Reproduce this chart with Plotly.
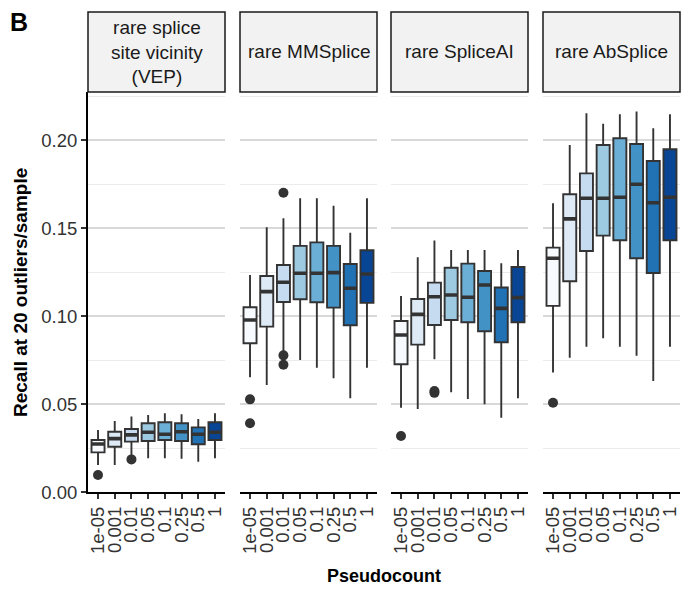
import plotly.graph_objects as go

W, H = 684, 590

panel_titles = ["rare splice<br>site vicinity<br>(VEP)", "rare MMSplice", "rare SpliceAI", "rare AbSplice"]
pseudocounts = ["1e-05", "0.001", "0.01", "0.05", "0.1", "0.25", "0.5", "1"]
box_colors = ["#f7fbff", "#deebf7", "#c6dbef", "#9ecae1", "#6baed6", "#4292c6", "#2171b5", "#084594"]

# VEP
vep_lo = [0.0155, 0.0155, 0.0212, 0.0193, 0.0193, 0.0190, 0.0174, 0.0193]
vep_q1 = [0.0227, 0.0259, 0.0288, 0.0291, 0.0297, 0.0291, 0.0273, 0.0297]
vep_med = [0.0274, 0.0305, 0.0326, 0.0341, 0.0330, 0.0344, 0.0330, 0.0341]
vep_q3 = [0.0297, 0.0344, 0.0360, 0.0392, 0.0398, 0.0392, 0.0369, 0.0398]
vep_hi = [0.0354, 0.0405, 0.0430, 0.0439, 0.0449, 0.0443, 0.0416, 0.0449]
vep_out = [[0.0098], [], [0.0187], [], [], [], [], []]

# MMSplice
mms_lo = [0.0653, 0.0610, 0.0790, 0.0752, 0.0708, 0.0648, 0.0534, 0.0708]
mms_q1 = [0.0847, 0.0941, 0.1081, 0.1097, 0.1080, 0.1049, 0.0949, 0.1076]
mms_med = [0.0979, 0.1140, 0.1193, 0.1244, 0.1244, 0.1248, 0.1159, 0.1240]
mms_q3 = [0.1051, 0.1229, 0.1291, 0.1400, 0.1420, 0.1400, 0.1297, 0.1375]
mms_hi = [0.1235, 0.1506, 0.1557, 0.1670, 0.1670, 0.1628, 0.1475, 0.1670]
mms_out = [[0.0528, 0.0392], [], [0.1702, 0.0778, 0.0725], [], [], [], [], []]

# SpliceAI
sai_lo = [0.0481, 0.0473, 0.0756, 0.0568, 0.0530, 0.0500, 0.0424, 0.0534]
sai_q1 = [0.0727, 0.0839, 0.0950, 0.0979, 0.0966, 0.0915, 0.0852, 0.0966]
sai_med = [0.0894, 0.1011, 0.1111, 0.1121, 0.1108, 0.1178, 0.1045, 0.1106]
sai_q3 = [0.0973, 0.1098, 0.1191, 0.1276, 0.1299, 0.1257, 0.1163, 0.1280]
sai_hi = [0.1115, 0.1335, 0.1430, 0.1377, 0.1377, 0.1377, 0.1301, 0.1377]
sai_out = [[0.0320], [], [0.0575, 0.0565], [], [], [], [], []]

# AbSplice
abs_lo = [0.0680, 0.0765, 0.0827, 0.0875, 0.0827, 0.0776, 0.0632, 0.0827]
abs_q1 = [0.1059, 0.1199, 0.1371, 0.1458, 0.1432, 0.1330, 0.1246, 0.1432]
abs_med = [0.1330, 0.1553, 0.1670, 0.1670, 0.1676, 0.1750, 0.1645, 0.1676]
abs_q3 = [0.1390, 0.1693, 0.1812, 0.1973, 0.2011, 0.1979, 0.1882, 0.1949]
abs_hi = [0.1642, 0.1973, 0.2153, 0.2093, 0.2148, 0.2163, 0.2068, 0.2148]
abs_out = [[0.0509], [], [], [], [], [], [], []]

panels = [
    (vep_lo, vep_q1, vep_med, vep_q3, vep_hi, vep_out),
    (mms_lo, mms_q1, mms_med, mms_q3, mms_hi, mms_out),
    (sai_lo, sai_q1, sai_med, sai_q3, sai_hi, sai_out),
    (abs_lo, abs_q1, abs_med, abs_q3, abs_hi, abs_out),
]

panel_px = [(88, 225), (240, 377), (391, 528), (543, 680)]
plot_top, plot_bot = 92, 492.3
strip_top = 12
FONT = "Liberation Sans, Arial, sans-serif"
DARK = "#333333"
BW = 0.78
TICK_SIZE = 18.5

def px(x):
    return x / W

def py(y):
    return 1 - y / H

fig = go.Figure()
layout = dict(
    width=W, height=H, margin=dict(l=0, r=0, t=0, b=0),
    paper_bgcolor="white", plot_bgcolor="white", boxmode="overlay",
    showlegend=False, font=dict(family=FONT, size=TICK_SIZE, color=DARK),
)

shapes = []
annotations = []
for p, (lo, q1, med, q3, hi, outs) in enumerate(panels):
    n = "" if p == 0 else str(p + 1)
    xa, ya = "x" + n, "y" + n
    for i in range(len(pseudocounts)):
        fig.add_trace(go.Box(
            x=[i], q1=[q1[i]], median=[med[i]], q3=[q3[i]],
            lowerfence=[lo[i]], upperfence=[hi[i]],
            fillcolor=box_colors[i], line=dict(color=DARK, width=1.9),
            width=BW, whiskerwidth=0, boxpoints=False,
            xaxis=xa, yaxis=ya, hoverinfo="skip",
        ))
    mx, my = [], []
    for i in range(len(pseudocounts)):
        mx += [i - BW / 2, i + BW / 2, None]
        my += [med[i], med[i], None]
    fig.add_trace(go.Scatter(x=mx, y=my, mode="lines",
                             line=dict(color=DARK, width=3.6),
                             xaxis=xa, yaxis=ya, hoverinfo="skip"))
    ox, oy = [], []
    for i, lst in enumerate(outs):
        for v in lst:
            ox.append(i)
            oy.append(v)
    fig.add_trace(go.Scatter(x=ox, y=oy, mode="markers",
                             marker=dict(color=DARK, size=10),
                             xaxis=xa, yaxis=ya, hoverinfo="skip"))

    x0, x1 = panel_px[p]
    layout["xaxis" + n] = dict(
        domain=[px(x0), px(x1)], range=[-0.6, 7.6], anchor=ya,
        tickmode="array", tickvals=list(range(8)), ticktext=pseudocounts,
        tickangle=-90, ticks="outside", ticklen=5, tickwidth=1.5, tickcolor=DARK,
        showline=True, linecolor="black", linewidth=2, showgrid=False,
        zeroline=False, automargin=False,
        tickfont=dict(family=FONT, size=TICK_SIZE, color=DARK),
    )
    yax = dict(
        domain=[py(plot_bot), py(plot_top)], range=[0, 0.2274], anchor=xa,
        showgrid=True, gridcolor="#d9d9d9", gridwidth=1.5, zeroline=False,
        tickmode="array", tickvals=[0, 0.05, 0.10, 0.15, 0.20],
        minor=dict(tickvals=[0.025, 0.075, 0.125, 0.175, 0.225], showgrid=True,
                   gridcolor="#ebebeb", gridwidth=1, ticks=""),
        automargin=False,
    )
    if p == 0:
        yax.update(ticktext=["0.00", "0.05", "0.10", "0.15", "0.20"],
                   ticks="outside", ticklen=5, tickwidth=1.5, tickcolor=DARK,
                   showline=True, linecolor="black", linewidth=2,
                   tickfont=dict(family=FONT, size=TICK_SIZE, color=DARK))
    else:
        yax.update(showticklabels=False, ticks="", showline=False)
    layout["yaxis" + n] = yax

    shapes.append(dict(type="rect", xref="paper", yref="paper",
                       x0=px(x0), x1=px(x1), y0=py(plot_top), y1=py(strip_top),
                       fillcolor="#f2f2f2", line=dict(color="#1a1a1a", width=1.5),
                       layer="above"))
    annotations.append(dict(text=panel_titles[p], xref="paper", yref="paper",
                            x=px((x0 + x1) / 2), y=py((strip_top + plot_top) / 2),
                            xanchor="center", yanchor="middle", showarrow=False,
                            font=dict(family=FONT, size=19, color="#1a1a1a")))

annotations.append(dict(text="<b>B</b>", xref="paper", yref="paper",
                        x=px(8), y=py(6), xanchor="left", yanchor="top",
                        showarrow=False, font=dict(family=FONT, size=25, color="black")))
annotations.append(dict(text="<b>Recall at 20 outliers/sample</b>", xref="paper", yref="paper",
                        x=px(20), y=py(293), xanchor="center", yanchor="middle",
                        textangle=-90, showarrow=False,
                        font=dict(family=FONT, size=19, color="black")))
annotations.append(dict(text="<b>Pseudocount</b>", xref="paper", yref="paper",
                        x=px(384), y=py(576), xanchor="center", yanchor="middle",
                        showarrow=False, font=dict(family=FONT, size=18, color="black")))

layout["shapes"] = shapes
layout["annotations"] = annotations
fig.update_layout(**layout)
fig.write_html("out.html")
